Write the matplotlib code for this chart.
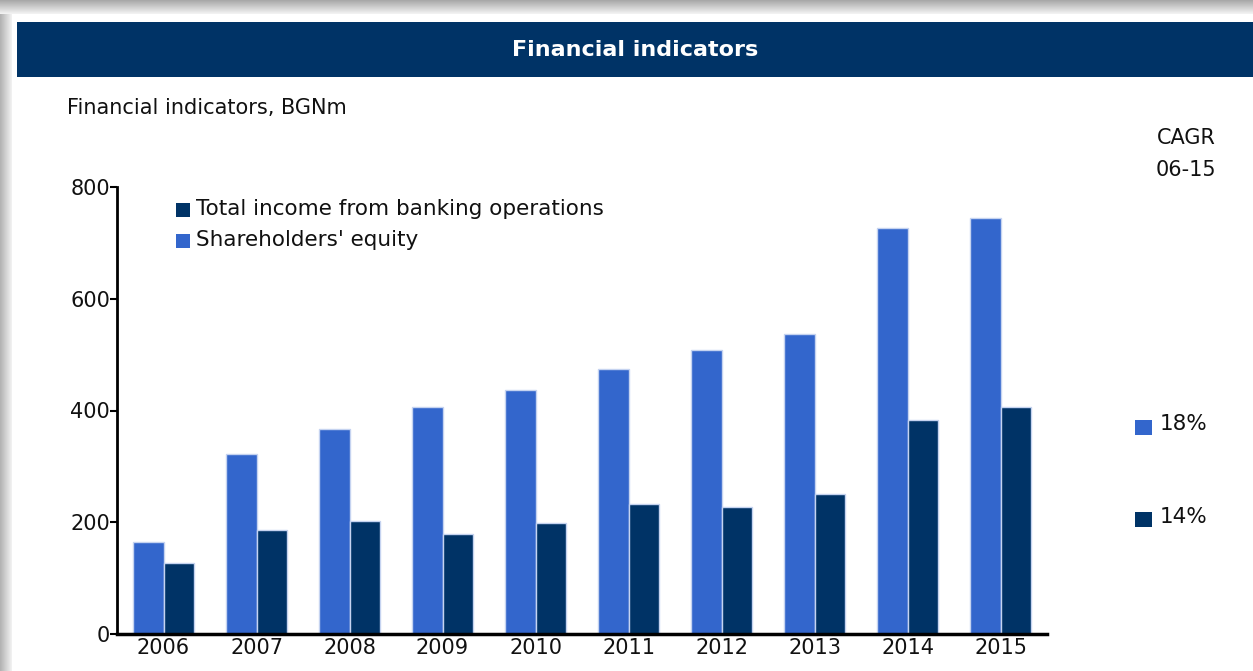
import matplotlib
matplotlib.use("Agg")
import matplotlib.pyplot as plt
from matplotlib.patches import Rectangle
import numpy as np

years = ["2006", "2007", "2008", "2009", "2010", "2011", "2012", "2013", "2014", "2015"]
equity = [165, 322, 367, 406, 436, 474, 508, 537, 726, 744]
income = [127, 187, 202, 179, 198, 233, 228, 250, 383, 406]
yticks = [0, 200, 400, 600, 800]
cagr_equity = "18%"
cagr_income = "14%"

LIGHT = "#3366cc"
DARK = "#003366"
TXT = "#111111"

W, H = 1253, 671
fig = plt.figure(figsize=(W / 100, H / 100), dpi=100)
fig.patch.set_facecolor("white")

def px(x, y, w, h, **kw):
    fig.patches.append(Rectangle((x / W, 1 - (y + h) / H), w / W, h / H,
                                 transform=fig.transFigure, figure=fig, **kw))

# shadow frame
for i in range(14):
    g = 0.66 + 0.022 * i
    px(0, i, W, 1, color=(g, g, g), lw=0, zorder=0)
for i in range(12):
    g = 0.70 + 0.022 * i
    px(i, 14, 1, H - 14, color=(g, g, g), lw=0, zorder=0)
# header band
px(17, 22, W - 17, 55, color=DARK, lw=0, zorder=1)
fig.text((17 + W) / 2 / W, 1 - 50 / H, "Financial indicators", color="white",
         fontsize=16, fontweight="bold", ha="center", va="center")
fig.text(67 / W, 1 - 108 / H, "Financial indicators, BGNm", fontsize=15,
         ha="left", va="center", color=TXT)

ax = fig.add_axes([117 / W, 1 - 634 / H, (1047 - 117) / W, (634 - 187) / H])
x = np.arange(len(years))
bw = 0.33
ax.bar(x - bw / 2, equity, width=bw, color=LIGHT, edgecolor="#c5d3f0", linewidth=1, zorder=2)
ax.bar(x + bw / 2, income, width=bw, color=DARK, edgecolor="#c5d3f0", linewidth=1, zorder=2)
ax.set_xlim(-0.5, len(years) - 0.5)
ax.set_ylim(0, 800)
ax.set_yticks(yticks)
ax.set_yticklabels([str(v) for v in yticks], fontsize=15, color=TXT)
ax.set_xticks(x)
ax.set_xticklabels(years, fontsize=15, color=TXT)
ax.tick_params(axis="y", direction="out", length=5, width=1.5, pad=0)
ax.tick_params(axis="x", length=0, pad=3)
for s in ["top", "right"]:
    ax.spines[s].set_visible(False)
ax.spines["left"].set_linewidth(2)
ax.spines["bottom"].set_linewidth(2.5)
ax.spines["bottom"].set_zorder(3)

# legend
px(176, 203, 14, 14, color=DARK, lw=0, zorder=3)
fig.text(196 / W, 1 - 209 / H, "Total income from banking operations", fontsize=15.5,
         ha="left", va="center", color=TXT)
px(176, 234, 14, 14, color=LIGHT, lw=0, zorder=3)
fig.text(196 / W, 1 - 240 / H, "Shareholders' equity", fontsize=15.5,
         ha="left", va="center", color=TXT)

# CAGR
fig.text(1216 / W, 1 - 138 / H, "CAGR", fontsize=15, ha="right", va="center", color=TXT)
fig.text(1216 / W, 1 - 170 / H, "06-15", fontsize=15, ha="right", va="center", color=TXT)
px(1135, 420, 17, 15, color=LIGHT, lw=0, zorder=3)
fig.text(1160 / W, 1 - 424 / H, cagr_equity, fontsize=15.5, ha="left", va="center", color=TXT)
px(1135, 512, 17, 15, color=DARK, lw=0, zorder=3)
fig.text(1160 / W, 1 - 517 / H, cagr_income, fontsize=15.5, ha="left", va="center", color=TXT)

fig.savefig("out.png", dpi=100)
